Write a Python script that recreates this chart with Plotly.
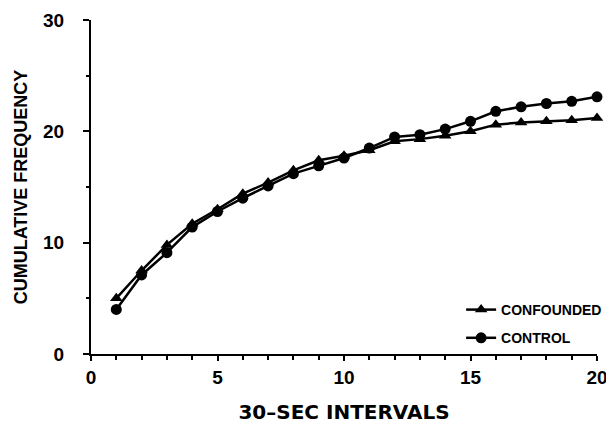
import plotly.graph_objects as go

intervals = list(range(1, 21))
confounded = [5.0, 7.5, 9.8, 11.7, 13.0, 14.4, 15.4, 16.5, 17.4, 17.8,
              18.3, 19.1, 19.3, 19.6, 20.0, 20.6, 20.8, 20.9, 21.0, 21.2]
control = [4.0, 7.1, 9.1, 11.4, 12.8, 14.0, 15.1, 16.2, 16.9, 17.6,
           18.5, 19.5, 19.7, 20.2, 20.9, 21.8, 22.2, 22.5, 22.7, 23.1]
x_ticks = [0, 5, 10, 15, 20]
y_ticks = [0, 10, 20, 30]

FAM = "Liberation Sans, Arial, sans-serif"
font = dict(family=FAM, size=17, color="black", weight="bold")

fig = go.Figure()
fig.add_trace(go.Scatter(x=intervals, y=confounded, name="CONFOUNDED",
                         mode="lines+markers", cliponaxis=False, legendgroup="a",
                         line=dict(color="black", width=2.5),
                         marker=dict(symbol="triangle-up", size=11, color="black")))
fig.add_trace(go.Scatter(x=intervals, y=control, name="CONTROL",
                         mode="lines+markers", cliponaxis=False, legendgroup="b",
                         line=dict(color="black", width=2.5),
                         marker=dict(symbol="circle", size=11, color="black")))

fig.update_layout(
    width=614, height=424,
    margin=dict(l=83, r=25, t=12, b=78),
    paper_bgcolor="white", plot_bgcolor="white",
    font=font,
    showlegend=True,
    legend=dict(x=1.02, y=0.0, xanchor="right", yanchor="bottom",
                bgcolor="rgba(0,0,0,0)", itemwidth=30,
                font=dict(family=FAM, size=14, color="black", weight="bold"),
                tracegroupgap=7),
)
fig.update_xaxes(range=[0, 20], tickvals=x_ticks, ticks="outside", ticklen=5,
                 tickwidth=2, tickcolor="black", showline=True, linecolor="black",
                 linewidth=2, showgrid=False, zeroline=False, automargin=False,
                 minor=dict(dtick=1, ticks="outside", ticklen=4, tickwidth=1.5, tickcolor="black"),
                 title=dict(text="30–SEC INTERVALS", standoff=18,
                            font=dict(family="DejaVu Sans, sans-serif", size=20, weight="bold")),
                 tickfont=dict(size=19, weight="bold"))
fig.update_yaxes(range=[0, 30], tickvals=y_ticks, ticks="outside", ticklen=6,
                 tickwidth=2, tickcolor="black", showline=True, linecolor="black",
                 linewidth=2, showgrid=False, zeroline=False, ticklabelstandoff=15,
                 automargin=False,
                 minor=dict(tickvals=[5, 15, 25], ticks="outside", ticklen=3, tickwidth=1.5, tickcolor="black"),
                 title=dict(text="CUMULATIVE FREQUENCY", standoff=11,
                            font=dict(family=FAM, size=18, weight="bold")),
                 tickfont=dict(size=19, weight="bold"))

fig.write_html("out.html")
